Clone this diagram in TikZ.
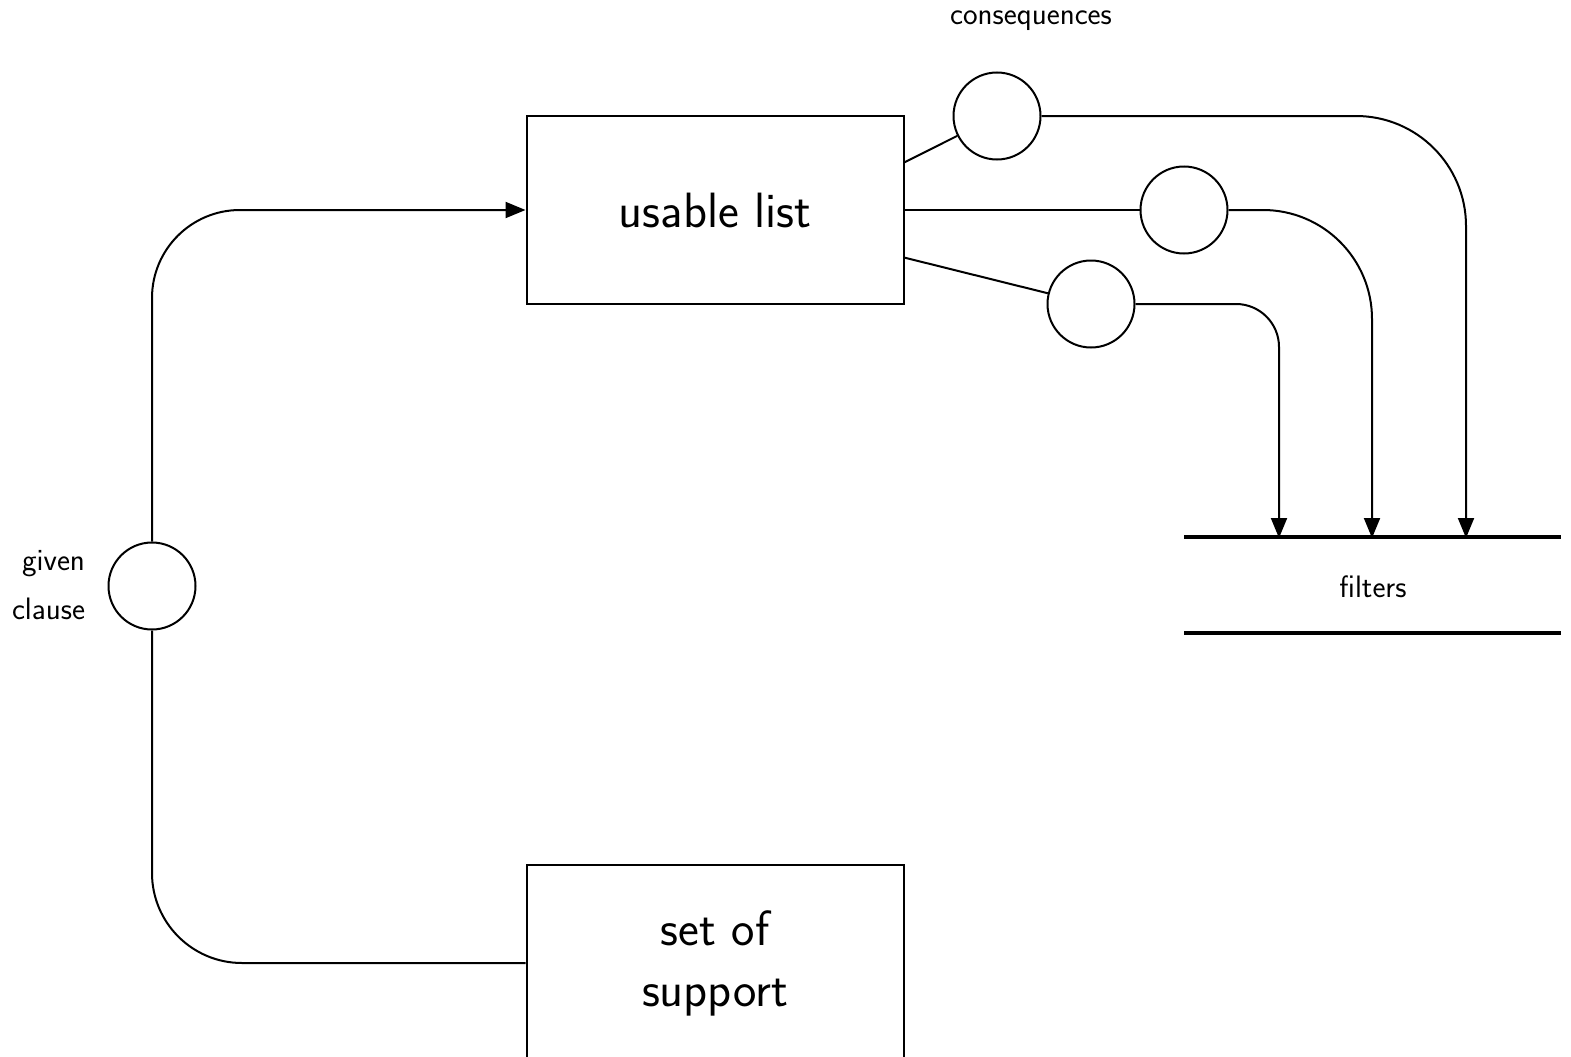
\documentclass[tikz,border=0pt]{standalone}
\usepackage{fontspec}
\usetikzlibrary{arrows.meta}
\begin{document}
\begin{tikzpicture}[x=1pt,y=-1pt,line width=2pt,
  box/.style={draw,rectangle,minimum width=377pt,minimum height=188pt,inner sep=0pt,align=center,
    font=\sffamily\fontsize{49.6}{61}\selectfont},
  port/.style={draw,circle,minimum size=87pt,inner sep=0pt},
  lbl/.style={font=\sffamily\fontsize{31}{36}\selectfont,inner sep=0pt},
  tip/.style={-{Triangle[length=20pt,width=16pt]}}]
\useasboundingbox (0,0) rectangle (1571,1057);
% boxes
\node[box] (ul) at (715,210) {usable list};
\node[box,minimum height=196pt] (sos) at (715,963) {set of\\support};
% circles
\node[port] (c1) at (997,116) {};
\node[port] (c2) at (1184,210) {};
\node[port] (c3) at (1091,304) {};
\node[port] (gc) at (152,586) {};
% labels
\node[lbl,anchor=base] (cons) at (1031,25) {consequences};
\node[lbl,anchor=base east] (given) at (86,570) {given};
\node[lbl,anchor=base east] (clause) at (86,619) {clause};
% filters
\node[lbl,minimum width=375pt,minimum height=94pt] (flt) at (1372.5,585) {};
\node[lbl,anchor=base] (fltxt) at (1373,597) {filters};
\draw[line width=4pt] (flt.north west) -- (flt.north east);
\draw[line width=4pt] (flt.south west) -- (flt.south east);
\coordinate (t1) at (1466,538);
\coordinate (t2) at (1372,538);
\coordinate (t3) at (1279,538);
\coordinate (ua) at (904,162.5);
\coordinate (ub) at (904,257.5);
% connectors from usable list to circles
\draw (ua) -- (c1);
\draw (ul.east) -- (c2);
\draw (ub) -- (c3);
% circles to filters
\draw[tip,rounded corners=110pt] (c1.east) -| (t1);
\draw[tip,rounded corners=109pt] (c2.east) -| (t2);
\draw[tip,rounded corners=43pt] (c3.east) -| (t3);
% loop
\draw[rounded corners=90pt] (sos.west) -| (gc.south);
\draw[tip,rounded corners=88pt] (gc.north) |- (ul.west);
\end{tikzpicture}
\end{document}
